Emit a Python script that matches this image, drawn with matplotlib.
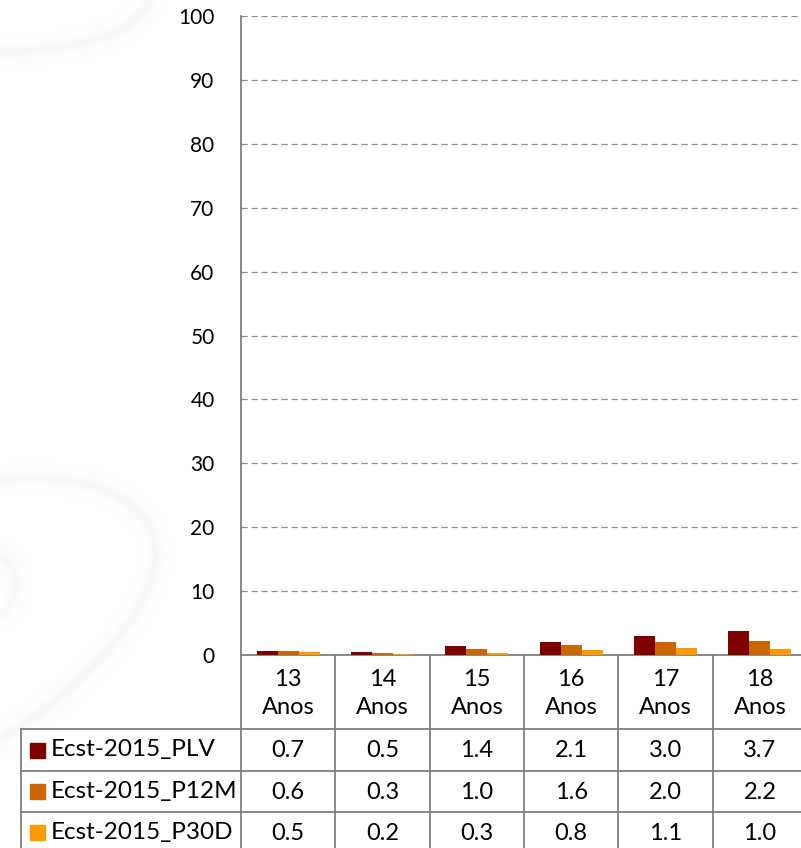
import numpy as np
import matplotlib.pyplot as plt
from matplotlib.path import Path
from matplotlib.patches import PathPatch, Rectangle
from matplotlib.transforms import blended_transform_factory

plt.rcParams['font.family'] = ['Lato', 'DejaVu Sans']

# === DATA === #
idades = ['13', '14', '15', '16', '17', '18']
series = ['Ecst-2015_PLV', 'Ecst-2015_P12M', 'Ecst-2015_P30D']
plv = [0.7, 0.5, 1.4, 2.1, 3.0, 3.7]
p12m = [0.6, 0.3, 1.0, 1.6, 2.0, 2.2]
p30d = [0.5, 0.2, 0.3, 0.8, 1.1, 1.0]
cores = ['#800000', '#cc6600', '#ff9900']
yticks = list(range(0, 101, 10))

W, H = 801, 848
LINHA = '#7f7f7f'
FS = 15     # eixo y
FT = 17     # texto da tabela


def py(v):
    # pixel (from top) -> figure fraction
    return 1 - v / H


def px(v):
    return v / W


def swoosh(bg, pts, peso=1.0):
    codes = [Path.MOVETO] + [Path.CURVE4] * (len(pts) - 1)
    path = Path([(p[0], H - p[1]) for p in pts], codes)
    for lw, a in [(22, 0.005), (16, 0.007), (11, 0.009), (7, 0.011), (4, 0.013)]:
        bg.add_patch(PathPatch(path, fill=False, lw=lw, ec='#808080',
                               alpha=a * peso, capstyle='round'))


fig = plt.figure(figsize=(W / 100, H / 100), dpi=100)

# faint background swooshes
bg = fig.add_axes([0, 0, 1, 1], zorder=-1)
bg.set_xlim(0, W)
bg.set_ylim(0, H)
bg.axis('off')
swoosh(bg, [(0, 52), (70, 50), (130, 40), (152, -2)])
swoosh(bg, [(0, 480), (90, 470), (160, 500), (155, 560),
            (148, 620), (80, 690), (0, 740)])
swoosh(bg, [(0, 556), (22, 566), (20, 600), (0, 615)], 0.8)

ax = fig.add_axes([px(241), py(655), 566 / W, 639 / H])
x = np.arange(len(idades))
w = 0.223
for k, (vals, c) in enumerate(zip([plv, p12m, p30d], cores)):
    ax.bar(x + (k - 1) * w, vals, width=w, color=c, edgecolor='none', zorder=3)

ax.set_xlim(-0.5, len(idades) - 0.5)
ax.set_ylim(0, 100)
ax.set_yticks(yticks)
ax.set_yticklabels([str(t) for t in yticks], fontsize=FS)
ax.tick_params(axis='y', length=0, pad=19)
ax.set_xticks([])
ax.yaxis.grid(True, linestyle=(0, (5, 3)), color='#8c8c8c', linewidth=0.9)
for s in ['top', 'right']:
    ax.spines[s].set_visible(False)
for s in ['left', 'bottom']:
    ax.spines[s].set_color(LINHA)
    ax.spines[s].set_linewidth(1.3)
ax.patch.set_alpha(0)

# === DATA TABLE === #
tr = blended_transform_factory(ax.transData, fig.transFigure)
tf = fig.transFigure
linhas = [728.7, 770.7, 811.7, 853]

for i in range(len(idades) + 1):
    ax.plot([i - 0.5, i - 0.5], [py(655), py(852)], color=LINHA, lw=1.3,
            transform=tr, clip_on=False)
fig.add_artist(plt.Line2D([px(21), px(21)], [py(728.7), py(852)],
                          color=LINHA, lw=1.3))
for yl in linhas[:3]:
    fig.add_artist(plt.Line2D([px(21), 1.0], [py(yl), py(yl)],
                              color=LINHA, lw=1.3))

for i, idade in enumerate(idades):
    ax.text(i, py(679), idade, transform=tr, ha='center', va='center',
            fontsize=FT)
    ax.text(i, py(708), 'Anos', transform=tr, ha='center', va='center',
            fontsize=FT)

for r, (nome, vals, c) in enumerate(zip(series, [plv, p12m, p30d], cores)):
    yc = (linhas[r] + linhas[r + 1]) / 2
    fig.add_artist(Rectangle((px(30), py(yc + 8)), 15 / W, 15 / H,
                             transform=tf, color=c))
    fig.text(px(51), py(yc), nome, ha='left', va='center', fontsize=17.5)
    for i, v in enumerate(vals):
        ax.text(i, py(yc + 1), '%.1f' % v, transform=tr, ha='center',
                va='center', fontsize=FT)

fig.savefig('out.png', dpi=100)
